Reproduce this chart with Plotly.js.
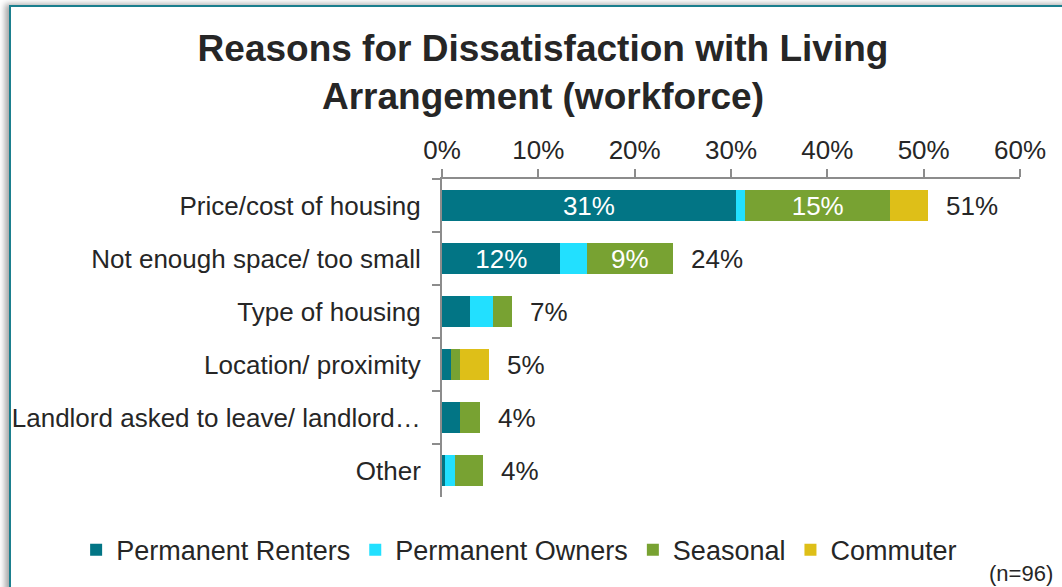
<!DOCTYPE html>
<html>
<head>
<meta charset="utf-8">
<script src="https://cdn.plot.ly/plotly-3.0.1.min.js"></script>
<style>
html,body{margin:0;padding:0;background:#fff;overflow:hidden;}
#chart{width:1062px;height:587px;position:absolute;left:0;top:0;}
#frame{position:absolute;left:9px;top:5px;width:1200px;height:800px;border-left:2px solid #1b7f8e;border-top:2px solid #1b7f8e;box-shadow:-4px -1px 6px rgba(0,0,0,0.35);pointer-events:none;}
</style>
</head>
<body>
<div id="chart"></div>
<div id="frame"></div>
<script>
const categories = ["Price/cost of housing", "Not enough space/ too small", "Type of housing", "Location/ proximity", "Landlord asked to leave/ landlord…", "Other"];
const seriesNames = ["Permanent Renters", "Permanent Owners", "Seasonal", "Commuter"];
const permanentRenters = [30.5, 12.3, 2.9, 0.9, 1.9, 0.3];
const permanentOwners  = [1.0, 2.7, 2.4, 0.0, 0.0, 1.0];
const seasonal         = [15.0, 9.0, 2.0, 1.0, 2.0, 3.0];
const commuter         = [4.0, 0.0, 0.0, 3.0, 0.0, 0.0];
const rentersLabels    = ["31%", "12%", "", "", "", ""];
const ownersLabels     = ["", "", "", "", "", ""];
const seasonalLabels   = ["15%", "9%", "", "", "", ""];
const commuterLabels   = ["", "", "", "", "", ""];
const totalLabels      = ["51%", "24%", "7%", "5%", "4%", "4%"];
const xTickValues      = [0, 10, 20, 30, 40, 50, 60];
const xTickLabels      = ["0%", "10%", "20%", "30%", "40%", "50%", "60%"];

const colors = ["#027585", "#22E0FF", "#78A232", "#DEBF18"];
const FONT = "Liberation Sans, Arial, sans-serif";
const TXT = "#262626";

const seriesValues = [permanentRenters, permanentOwners, seasonal, commuter];
const seriesLabels = [rentersLabels, ownersLabels, seasonalLabels, commuterLabels];

const traces = seriesValues.map((vals, i) => ({
  type: "bar",
  orientation: "h",
  name: seriesNames[i],
  y: categories,
  x: vals,
  text: seriesLabels[i],
  textposition: "inside",
  insidetextanchor: "middle",
  constraintext: "none",
  textfont: {family: FONT, size: 26, color: "#ffffff"},
  marker: {color: colors[i], line: {width: 0}},
  hoverinfo: "x+name"
}));

const totals = categories.map((c, k) => seriesValues.reduce((s, arr) => s + arr[k], 0));
const annotations = categories.map((c, k) => ({
  x: totals[k], y: c, xref: "x", yref: "y",
  text: totalLabels[k], showarrow: false,
  xanchor: "left", xshift: 16,
  font: {family: FONT, size: 26, color: TXT}
}));
annotations.push({
  x: 1.06, y: -0.239, xref: "paper", yref: "paper", xanchor: "right", yanchor: "middle",
  text: "(n=96)", showarrow: false,
  font: {family: FONT, size: 22, color: TXT}
});

const layout = {
  width: 1062, height: 587,
  margin: {l: 442, r: 42, t: 179, b: 90},
  paper_bgcolor: "#ffffff",
  plot_bgcolor: "#ffffff",
  barmode: "stack",
  bargap: 0.43,
  showlegend: true,
  title: {
    text: "Reasons for Dissatisfaction with Living<br>Arrangement (workforce)",
    x: 543/1062, xanchor: "center", xref: "container",
    y: 1 - 61/587, yanchor: "top", yref: "container",
    font: {family: FONT, size: 37, color: TXT, weight: "bold"}
  },
  xaxis: {
    side: "top", range: [0, 60], tickmode: "array", tickvals: xTickValues, ticktext: xTickLabels,
    ticks: "outside", ticklen: 8, tickwidth: 2, tickcolor: "#8c8c8c",
    showline: true, linecolor: "#8c8c8c", linewidth: 2,
    showgrid: false, zeroline: false, fixedrange: true,
    tickfont: {family: FONT, size: 26, color: TXT}
  },
  yaxis: {
    type: "category", autorange: "reversed",
    ticks: "outside", tickson: "boundaries", ticklen: 8, tickwidth: 2, tickcolor: "#8c8c8c",
    ticklabelstandoff: 14,
    showline: true, linecolor: "#8c8c8c", linewidth: 2,
    showgrid: false, zeroline: false, fixedrange: true,
    tickfont: {family: FONT, size: 26, color: TXT}
  },
  legend: {
    orientation: "h", traceorder: "normal",
    x: -0.633, xanchor: "left", y: -0.167, yanchor: "middle",
    font: {family: FONT, size: 27, color: TXT},
    bgcolor: "rgba(0,0,0,0)"
  },
  annotations: annotations,
  font: {family: FONT, color: TXT}
};

Plotly.newPlot("chart", traces, layout, {displayModeBar: false, staticPlot: true});
</script>
</body>
</html>
